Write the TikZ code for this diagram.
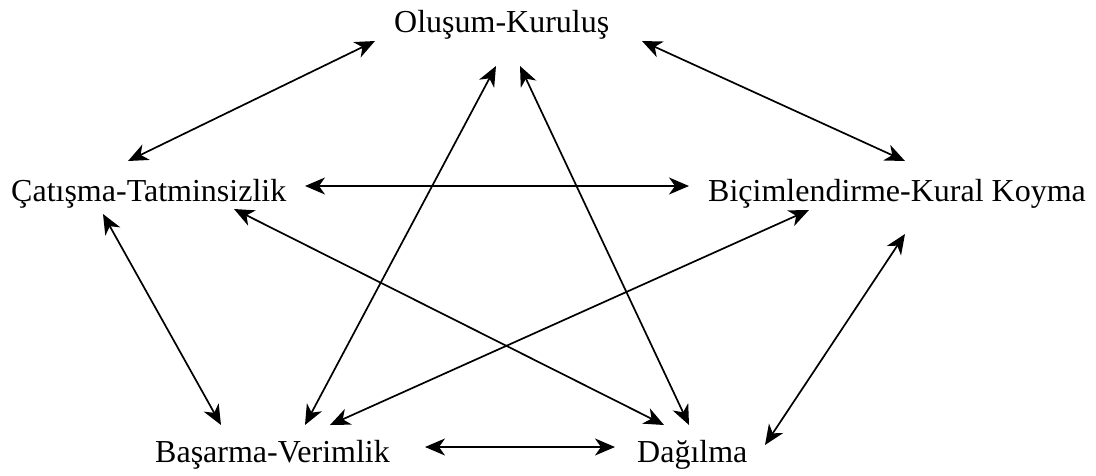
\documentclass[tikz,border=0pt]{standalone}
\usepackage{fontspec}
\setmainfont{Liberation Serif}
\usetikzlibrary{arrows.meta}
\begin{document}
\begin{tikzpicture}[x=1pt,y=-1pt,
  lbl/.style={inner sep=0pt,anchor=base west,font=\fontsize{32}{38}\selectfont},
  link/.style={line width=1.7pt,{Stealth[length=20pt,width=17pt,inset=6pt]}-{Stealth[length=20pt,width=17pt,inset=6pt]}}]
\useasboundingbox (0,0) rectangle (1096,475);
\node[lbl] (olu) at (394,32) {Oluşum-Kuruluş};
\node[lbl] (cat) at (11,201) {Çatışma-Tatminsizlik};
\node[lbl] (bic) at (708,201) {Biçimlendirme-Kural Koyma};
\node[lbl] (bas) at (155,462) {Başarma-Verimlik};
\node[lbl] (dag) at (637,462) {Dağılma};
% connector ends
\coordinate (oA) at (375,41);  \coordinate (cA) at (128,161);
\coordinate (oB) at (642,41);  \coordinate (bB) at (905,161);
\coordinate (cC) at (305,186); \coordinate (bC) at (689,186);
\coordinate (cD) at (103,214); \coordinate (sD) at (221,425);
\coordinate (bE) at (905,234); \coordinate (dE) at (765,445);
\coordinate (oF) at (496,66);  \coordinate (sF) at (305,425);
\coordinate (oG) at (520,66);  \coordinate (dG) at (689,425);
\coordinate (cH) at (234,209); \coordinate (dH) at (664,425);
\coordinate (bI) at (809,210); \coordinate (sI) at (330,425);
\coordinate (sJ) at (425,447); \coordinate (dJ) at (615,447);
\draw[link] (oA) -- (cA);
\draw[link] (oB) -- (bB);
\draw[link] (cC) -- (bC);
\draw[link] (cD) -- (sD);
\draw[link] (bE) -- (dE);
\draw[link] (oF) -- (sF);
\draw[link] (oG) -- (dG);
\draw[link] (cH) -- (dH);
\draw[link] (bI) -- (sI);
\draw[link] (sJ) -- (dJ);
\end{tikzpicture}
\end{document}
